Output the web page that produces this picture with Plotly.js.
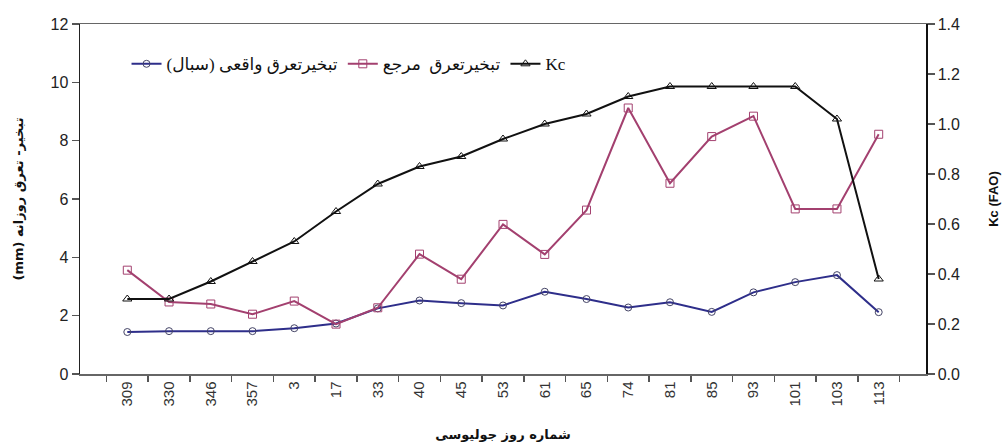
<!DOCTYPE html>
<html>
<head>
<meta charset="utf-8">
<script src="https://cdn.plot.ly/plotly-3.0.1.min.js"></script>
<style>html,body{margin:0;padding:0;background:#fff;}#chart{width:1008px;height:443px;}</style>
</head>
<body>
<div id="chart"></div>
<script>
const days = ['309','330','346','357','3','17','33','40','45','53','61','65','74','81','85','93','101','103','113'];
const etActual = [1.44,1.47,1.47,1.47,1.57,1.73,2.25,2.52,2.43,2.35,2.82,2.57,2.28,2.46,2.13,2.80,3.15,3.39,2.12];
const etRef = [3.56,2.47,2.40,2.05,2.50,1.71,2.27,4.11,3.25,5.13,4.10,5.62,9.12,6.54,8.14,8.84,5.66,5.66,8.22];
const kc = [0.30,0.30,0.37,0.45,0.53,0.65,0.76,0.83,0.87,0.94,1.00,1.04,1.11,1.15,1.15,1.15,1.15,1.02,0.38];

const nameActual = 'تبخیرتعرق واقعی (سبال)';
const nameRef = 'تبخیرتعرق  مرجع';
const nameKc = 'Kc';
const xTitle = 'شماره روز جولیوسی';
const yTitle = '(mm) تبخیر- تعرق روزانه';
const y2Title = 'Kc (FAO)';

const traces = [
  {x: days, y: etActual, name: nameActual, type: 'scatter', mode: 'lines+markers',
   line: {color: '#2e2e8a', width: 2}, marker: {symbol: 'circle-open', size: 7, color: '#444466', line: {width: 1}}},
  {x: days, y: etRef, name: nameRef, type: 'scatter', mode: 'lines+markers',
   line: {color: '#a3406f', width: 2}, marker: {symbol: 'square-open', size: 8, color: '#a3406f', line: {width: 1}}},
  {x: days, y: kc, name: nameKc, type: 'scatter', mode: 'lines+markers', yaxis: 'y2',
   line: {color: '#111111', width: 2}, marker: {symbol: 'triangle-up-open', size: 8, color: '#111111', line: {width: 1}}}
];

const layout = {
  width: 1008, height: 443,
  margin: {l: 80, r: 82, t: 24, b: 69},
  paper_bgcolor: '#ffffff', plot_bgcolor: '#ffffff',
  font: {family: 'Liberation Sans, Arial, DejaVu Sans', color: '#222'},
  showlegend: true,
  legend: {orientation: 'h', x: 0.055, y: 0.885, xanchor: 'left', yanchor: 'middle',
    bgcolor: 'rgba(0,0,0,0)', font: {family: 'Liberation Serif, DejaVu Serif, DejaVu Sans', size: 17, color: '#111'},
    itemwidth: 30, traceorder: 'normal'},
  xaxis: {type: 'category', categoryorder: 'array', categoryarray: days,
    showline: true, linecolor: '#666', linewidth: 1.5, mirror: true,
    ticks: 'outside', tickson: 'boundaries', ticklen: 6, tickcolor: '#555', tickwidth: 1.5,
    tickangle: -90, tickfont: {size: 15, color: '#333'}, showgrid: false, zeroline: false,
    title: {text: xTitle, font: {family: 'DejaVu Sans', size: 13, weight: 'bold', color: '#111'}, standoff: 24}},
  yaxis: {range: [0, 12], dtick: 2, showline: true, linecolor: '#222', linewidth: 1.5,
    ticks: 'outside', ticklen: 7, tickcolor: '#555', tickwidth: 1.5,
    tickfont: {size: 16, color: '#222'}, showgrid: false, zeroline: false,
    title: {text: yTitle, font: {family: 'DejaVu Sans', size: 13, weight: 'bold', color: '#111'}, standoff: 24}},
  yaxis2: {range: [0, 1.4], dtick: 0.2, tickformat: '.1f', overlaying: 'y', side: 'right',
    showline: true, linecolor: '#111', linewidth: 1.5,
    ticks: 'outside', ticklen: 7, tickcolor: '#555', tickwidth: 1.5,
    tickfont: {size: 16, color: '#222'}, showgrid: false, zeroline: false,
    title: {text: y2Title, font: {family: 'Liberation Sans, Arial', size: 13, weight: 'bold', color: '#111'}, standoff: 30}}
};

Plotly.newPlot('chart', traces, layout, {displayModeBar: false, staticPlot: true});
</script>
</body>
</html>
